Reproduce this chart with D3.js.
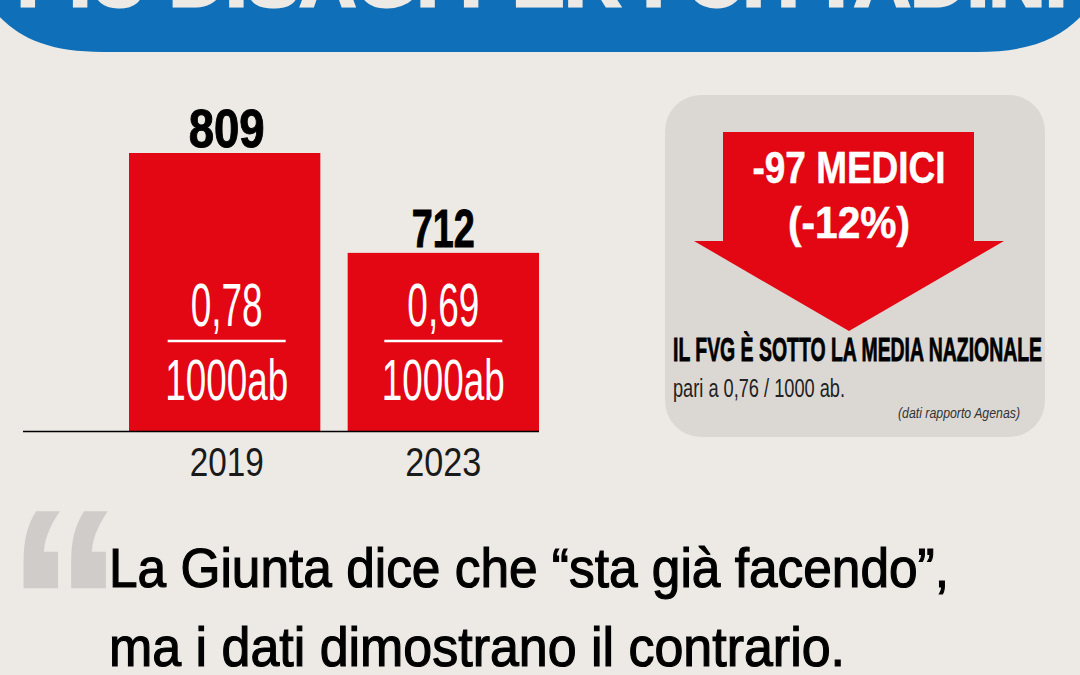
<!DOCTYPE html>
<html lang="it">
<head>
<meta charset="UTF-8">
<title>Medici FVG</title>
<script src="https://d3js.org/d3.v7.min.js"></script>
<style>
    body { margin: 0; padding: 0; background: #edeae5; overflow: hidden; }
    text { font-family: "Liberation Sans", Arial, sans-serif; }
</style>
</head>
<body>
<svg id="chart" width="1080" height="675"></svg>
<script>
// data
const years = ["2019", "2023"];
const doctors = [809, 712];
const ratios = ["0,78", "0,69"];
const ratioUnit = "1000ab";

const titleText = "PIÙ DISAGI PER I CITTADINI";
const arrowLines = ["-97 MEDICI", "(-12%)"];
const quoteLines = ["La Giunta dice che “sta già facendo”,", "ma i dati dimostrano il contrario."];

const red = "#e30613";
const svg = d3.select("#chart");

// squeezed text: fit to a given width, the originals are condensed
function label(x, y, str, size, width, opts = {}) {
    const fill = opts.fill || "#000";
    const t = svg.append("text")
        .attr("x", x).attr("y", y)
        .attr("font-size", size)
        .attr("font-weight", opts.weight || "normal")
        .attr("font-style", opts.style || "normal")
        .attr("fill", fill)
        .attr("text-anchor", opts.anchor || "start")
        .text(str);
    if (width) t.attr("textLength", width).attr("lengthAdjust", "spacingAndGlyphs");
    // a thin outline of the same colour gives the heavier weight of the original
    if (opts.heavy) t.attr("stroke", fill).attr("stroke-width", opts.heavy);
    return t;
}

// blue header
svg.append("path")
    .attr("d", "M-5,-5 L-5,12 C18,38 48,52 103,52 L977,52 C1032,52 1062,38 1085,12 L1085,-5 Z")
    .attr("fill", "#0f6fb8");
label(17, 6, titleText, 76, 1050, { weight: "bold", fill: "#edeae5", heavy: 3 });

// bars, the reference's axis does not start from zero
const x = d3.scaleBand().domain(years).range([129, 539]).paddingInner(0.125).paddingOuter(0);
const y = d3.scaleLinear().domain([539, 809]).range([431, 153]);

svg.selectAll("rect.bar").data(years).enter().append("rect")
    .attr("class", "bar")
    .attr("x", d => x(d))
    .attr("width", x.bandwidth())
    .attr("y", (d, i) => y(doctors[i]))
    .attr("height", (d, i) => y(y.domain()[0]) - y(doctors[i]))
    .attr("fill", red);

// baseline and years
svg.append("line").attr("x1", 23).attr("x2", 539).attr("y1", 431.5).attr("y2", 431.5)
    .attr("stroke", "#000").attr("stroke-width", 1.5);

years.forEach((yr, i) => {
    const cx = x(yr) + x.bandwidth() / 2 + (i === 0 ? 2 : 0);
    label(cx, 476, yr, 40, i === 0 ? 74 : 76, { anchor: "middle", fill: "#1a1a1a" });
    label(cx, y(doctors[i]) - 6, String(doctors[i]), 53, i === 0 ? 76 : 63, { anchor: "middle", weight: "bold", heavy: 1 });
    label(cx, 326, ratios[i], 61, 72, { anchor: "middle", fill: "#fff" });
    svg.append("line").attr("x1", cx - 59).attr("x2", cx + 59).attr("y1", 341).attr("y2", 341)
        .attr("stroke", "#fff").attr("stroke-width", 2.5);
    label(cx, 400, ratioUnit, 57, 123, { anchor: "middle", fill: "#fff" });
});

// grey box with arrow
svg.append("rect").attr("x", 665).attr("y", 95).attr("width", 380).attr("height", 342).attr("rx", 36)
    .attr("fill", "#dbd8d3");
svg.append("path")
    .attr("d", "M723,132 L974,132 L974,241 L1004,241 L849,331 L694,241 L723,241 Z")
    .attr("fill", red);
label(849, 183, arrowLines[0], 45, 193, { anchor: "middle", weight: "bold", fill: "#fff", heavy: 0.5 });
label(849, 238, arrowLines[1], 45, 122, { anchor: "middle", weight: "bold", fill: "#fff", heavy: 0.5 });

label(673, 361, "IL FVG È SOTTO LA MEDIA NAZIONALE", 33, 369, { weight: "bold", heavy: 0.8 });
label(673, 397, "pari a 0,76 / 1000 ab.", 26, 172, { fill: "#222" });
label(898, 418, "(dati rapporto Agenas)", 14, 122, { style: "italic", fill: "#333" });

// quote
label(8, 693, "“", 262, 114, { weight: "bold", fill: "#d0ccc9", heavy: 3 });
label(109, 587, quoteLines[0], 56, 840, { heavy: 1.2 });
label(109, 666, quoteLines[1], 56, 736, { heavy: 1.2 });
</script>
</body>
</html>
